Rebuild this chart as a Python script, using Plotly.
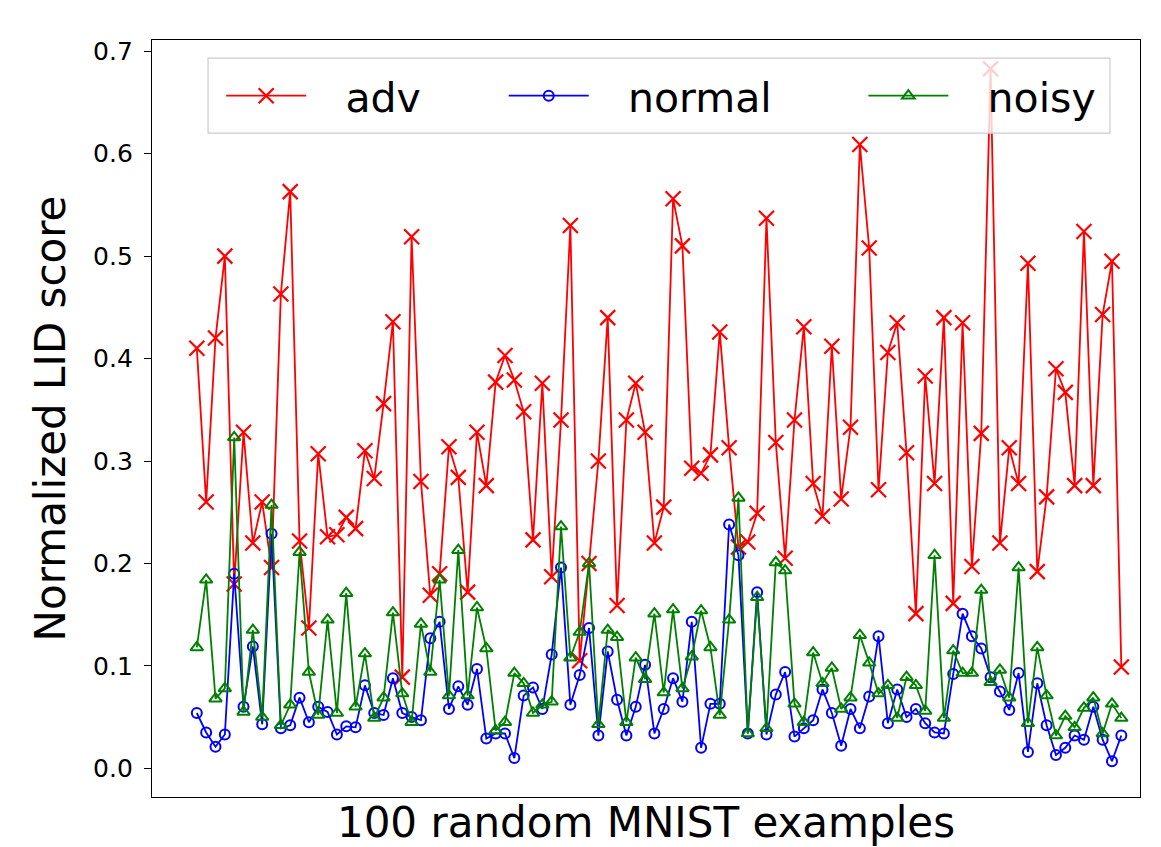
import plotly.graph_objects as go

adv = [0.41, 0.26, 0.42, 0.50, 0.18, 0.328, 0.22, 0.26, 0.196, 0.463,
       0.563, 0.222, 0.137, 0.307, 0.226, 0.228, 0.245, 0.234, 0.31, 0.283,
       0.356, 0.436, 0.089, 0.519, 0.28, 0.169, 0.19, 0.314, 0.284, 0.172,
       0.328, 0.276, 0.377, 0.403, 0.379, 0.348, 0.223, 0.376, 0.187, 0.34,
       0.53, 0.105, 0.2, 0.30, 0.44, 0.159, 0.34, 0.376, 0.328, 0.22,
       0.255, 0.556, 0.51, 0.293, 0.288, 0.306, 0.426, 0.313, 0.216, 0.221,
       0.249, 0.537, 0.318, 0.205, 0.34, 0.431, 0.278, 0.246, 0.412, 0.263,
       0.333, 0.609, 0.508, 0.272, 0.406, 0.435, 0.308, 0.151, 0.383, 0.278,
       0.44, 0.161, 0.435, 0.197, 0.327, 0.683, 0.22, 0.313, 0.278, 0.493,
       0.192, 0.265, 0.39, 0.367, 0.276, 0.524, 0.276, 0.443, 0.495, 0.099]

normal = [0.054, 0.035, 0.021, 0.033, 0.19, 0.06, 0.119, 0.043, 0.229, 0.039,
          0.042, 0.069, 0.045, 0.06, 0.055, 0.033, 0.041, 0.04, 0.081, 0.054,
          0.052, 0.088, 0.054, 0.05, 0.047, 0.127, 0.143, 0.058, 0.08, 0.062,
          0.097, 0.029, 0.034, 0.034, 0.01, 0.071, 0.079, 0.058, 0.111, 0.196,
          0.062, 0.091, 0.137, 0.032, 0.114, 0.067, 0.032, 0.06, 0.101, 0.034,
          0.058, 0.088, 0.065, 0.143, 0.02, 0.063, 0.063, 0.238, 0.208, 0.034,
          0.172, 0.033, 0.072, 0.094, 0.031, 0.039, 0.047, 0.077, 0.054, 0.022,
          0.058, 0.039, 0.07, 0.129, 0.044, 0.077, 0.05, 0.058, 0.044, 0.035,
          0.034, 0.092, 0.151, 0.129, 0.117, 0.089, 0.075, 0.057, 0.093, 0.016,
          0.083, 0.042, 0.013, 0.02, 0.032, 0.028, 0.06, 0.028, 0.007, 0.032]

noisy = [0.118, 0.184, 0.068, 0.078, 0.323, 0.055, 0.135, 0.05, 0.257, 0.042,
         0.062, 0.211, 0.094, 0.052, 0.145, 0.054, 0.171, 0.06, 0.112, 0.049,
         0.069, 0.152, 0.073, 0.045, 0.141, 0.094, 0.184, 0.071, 0.213, 0.071,
         0.157, 0.117, 0.037, 0.045, 0.093, 0.083, 0.054, 0.062, 0.065, 0.236,
         0.108, 0.133, 0.2, 0.043, 0.135, 0.128, 0.045, 0.108, 0.087, 0.151,
         0.074, 0.155, 0.078, 0.109, 0.154, 0.118, 0.052, 0.145, 0.264, 0.034,
         0.167, 0.039, 0.201, 0.193, 0.063, 0.045, 0.113, 0.083, 0.098, 0.058,
         0.069, 0.13, 0.103, 0.073, 0.081, 0.049, 0.089, 0.081, 0.056, 0.208,
         0.049, 0.115, 0.093, 0.093, 0.174, 0.084, 0.096, 0.069, 0.196, 0.044,
         0.118, 0.071, 0.032, 0.051, 0.04, 0.059, 0.069, 0.034, 0.063, 0.049]

x = list(range(len(adv)))
y_ticks = [0.0, 0.1, 0.2, 0.3, 0.4, 0.5, 0.6, 0.7]
series_names = ["adv", "normal", "noisy"]

FONT = "DejaVu Sans"
PAD = "\u00a0\u00a0\u2009"

fig = go.Figure()
fig.add_trace(go.Scatter(
    x=x, y=adv, mode="lines+markers", name=PAD + series_names[0], legend="legend",
    line=dict(color="red", width=1.8),
    marker=dict(symbol="x-thin-open", size=15, color="red",
                line=dict(color="red", width=2.2)),
))
fig.add_trace(go.Scatter(
    x=x, y=normal, mode="lines+markers", name=PAD + series_names[1], legend="legend2",
    line=dict(color="blue", width=1.8),
    marker=dict(symbol="circle-open", size=10, color="blue",
                line=dict(color="blue", width=2)),
))
fig.add_trace(go.Scatter(
    x=x, y=noisy, mode="lines+markers", name=PAD + series_names[2], legend="legend3",
    line=dict(color="green", width=1.8),
    marker=dict(symbol="triangle-up-open", size=11, color="green",
                line=dict(color="green", width=2)),
))

# legend frame
fig.add_shape(type="rect", xref="paper", yref="paper",
              x0=0.0567, x1=0.9696, y0=0.877, y1=0.976,
              line=dict(color="#cccccc", width=1.2),
              fillcolor="rgba(255,255,255,0.8)", layer="above")

leg_common = dict(orientation="h", yanchor="middle", y=0.926, xanchor="left",
                  bgcolor="rgba(0,0,0,0)", borderwidth=0, itemwidth=80,
                  font=dict(family=FONT, size=41, color="black"))

fig.update_layout(
    width=1153, height=839,
    margin=dict(l=144, r=21, t=32, b=50),
    paper_bgcolor="white", plot_bgcolor="white",
    font=dict(family=FONT, color="black"),
    showlegend=True,
    legend=dict(x=0.070, **leg_common),
    legend2=dict(x=0.356, **leg_common),
    legend3=dict(x=0.720, **leg_common),
    xaxis=dict(range=[-4.8, 101.0], showticklabels=False, ticks="",
               showgrid=False, zeroline=False, showline=True, mirror=True,
               linecolor="black", linewidth=1.3, automargin=False,
               title=dict(text="100 random MNIST examples",
                          font=dict(family=FONT, size=42), standoff=13)),
    yaxis=dict(range=[-0.028, 0.711], tickvals=y_ticks,
               ticktext=[f"{v:.1f}" for v in y_ticks],
               ticks="outside", ticklen=7, tickwidth=1.3, tickcolor="black",
               ticklabelstandoff=6,
               tickfont=dict(family=FONT, size=25),
               showgrid=False, zeroline=False, showline=True, mirror=True,
               linecolor="black", linewidth=1.3, automargin=False,
               title=dict(text="Normalized LID score",
                          font=dict(family=FONT, size=42), standoff=14)),
)

fig.write_html("out.html")
